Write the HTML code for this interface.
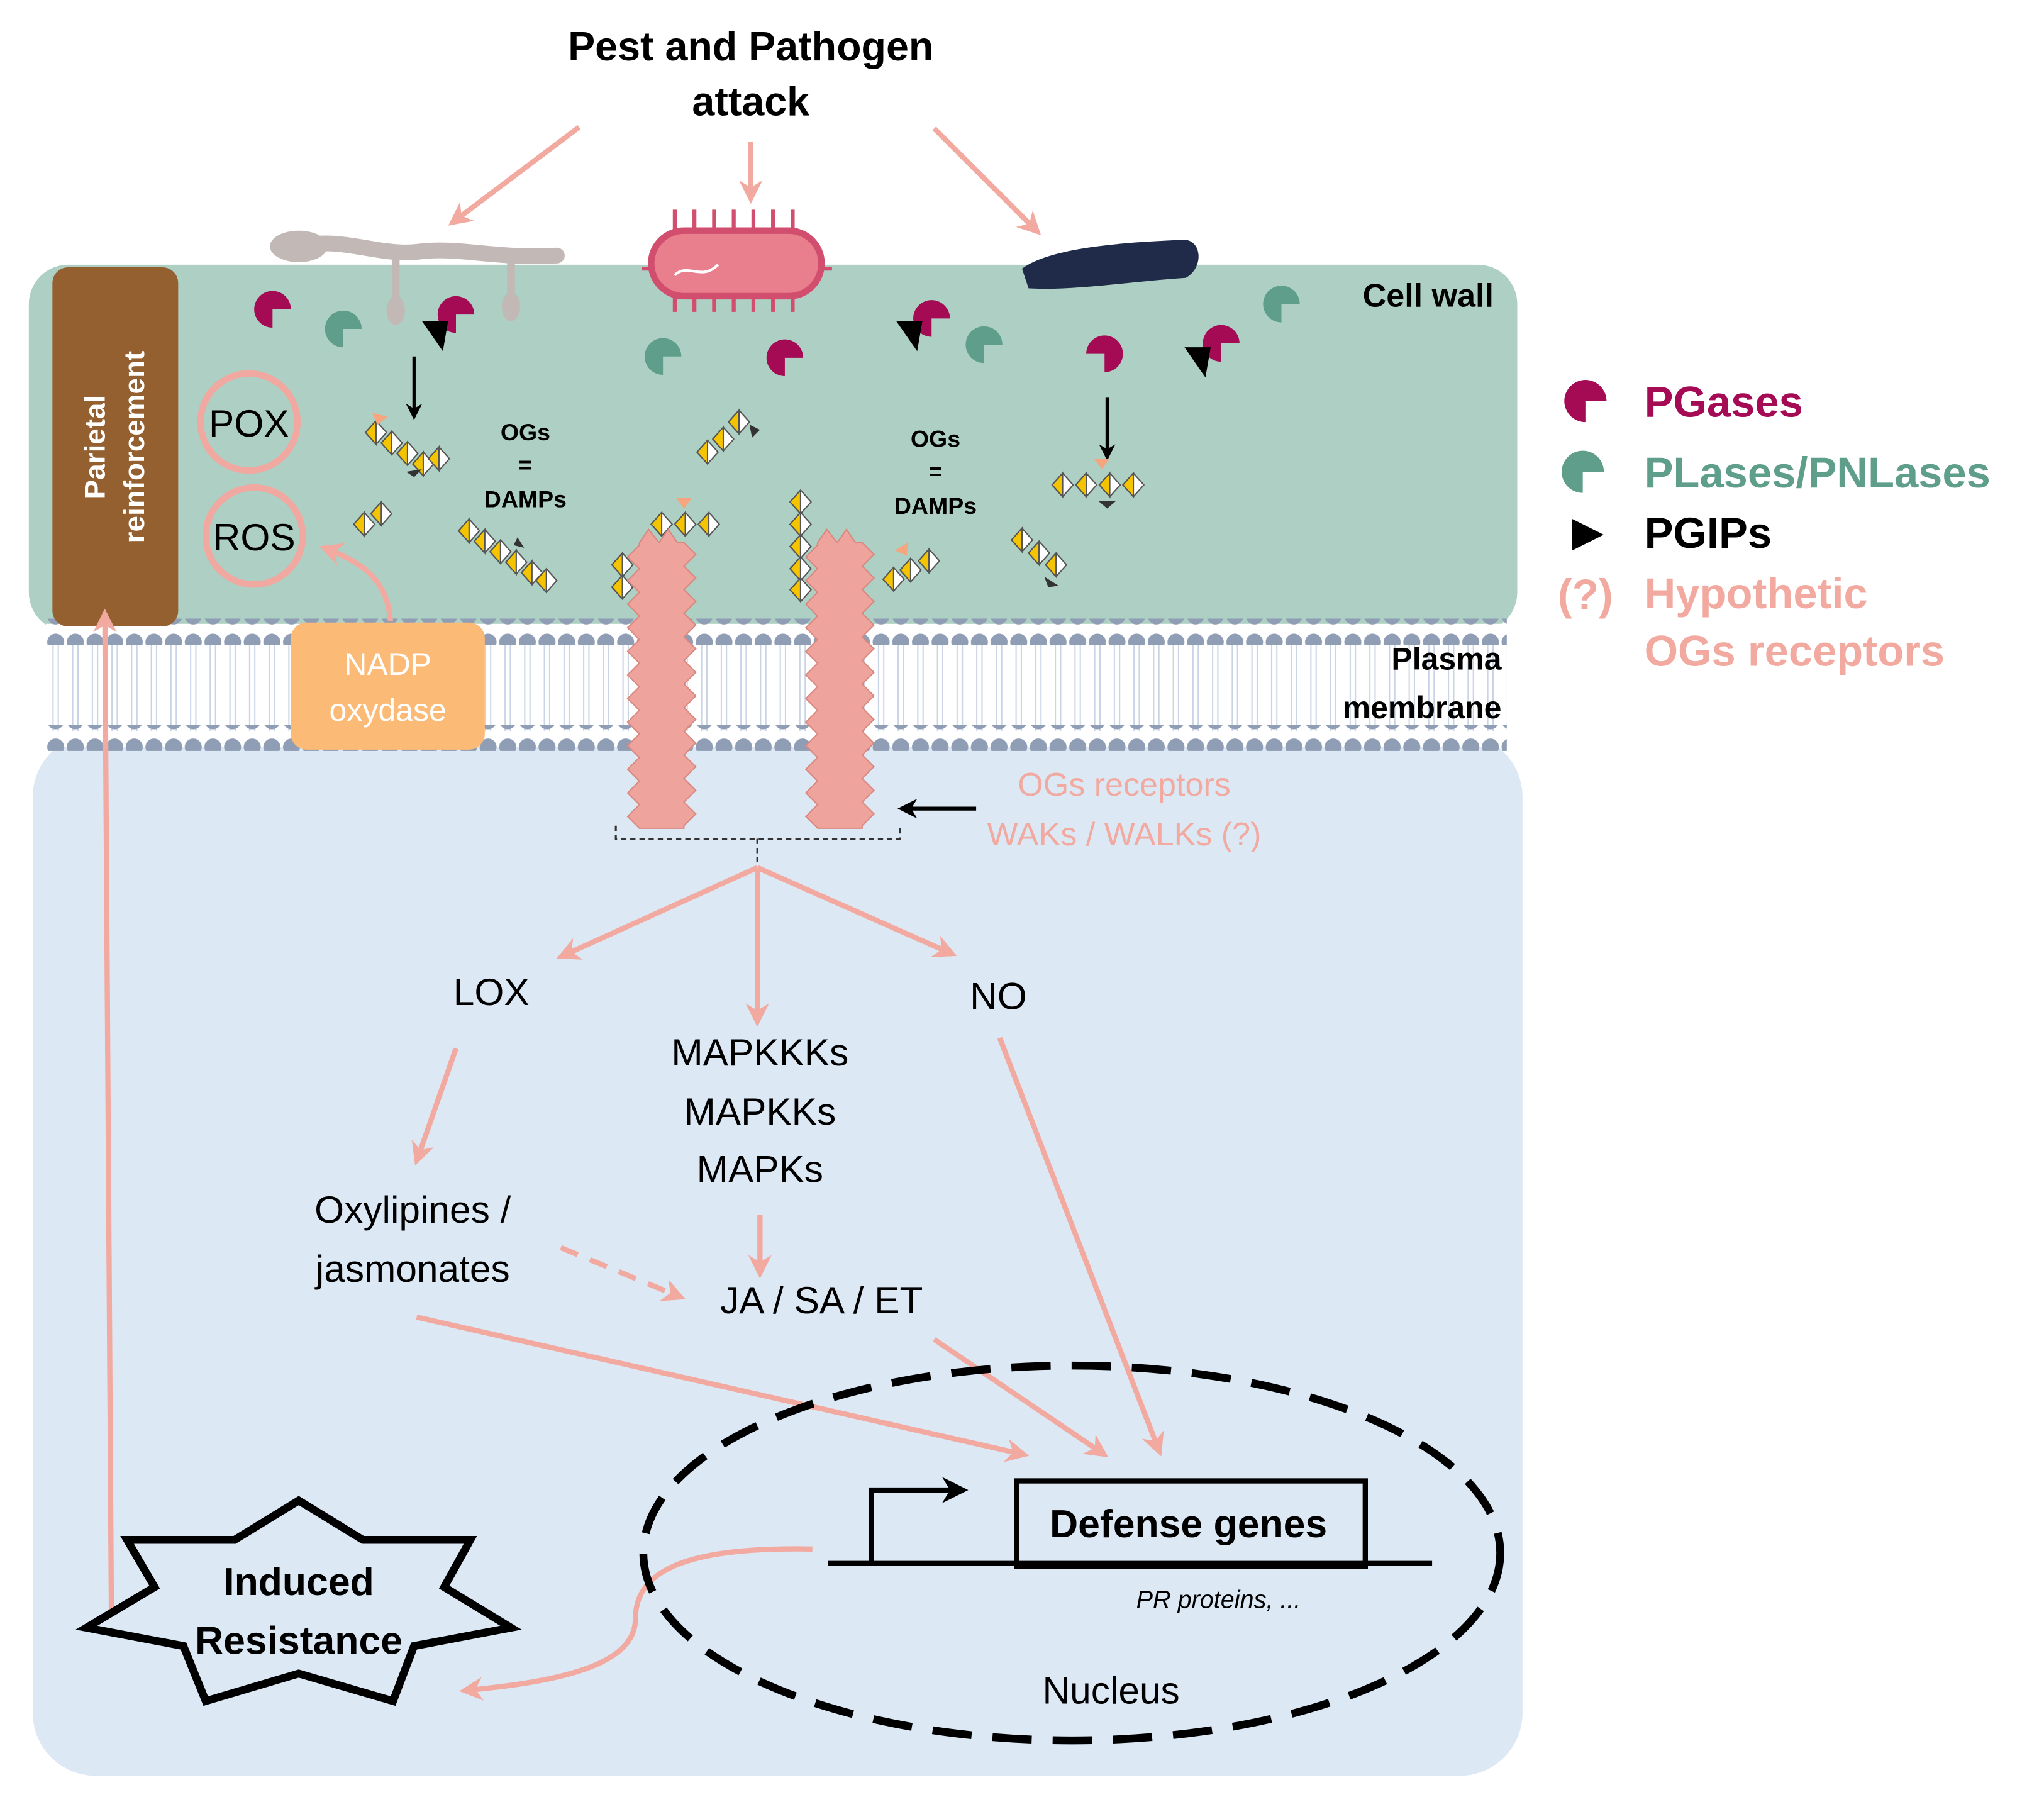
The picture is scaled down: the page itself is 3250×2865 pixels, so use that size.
<!DOCTYPE html>
<html><head><meta charset="utf-8"><style>html,body{margin:0;padding:0;background:#fff}svg{display:block}</style></head>
<body>
<svg width="3250" height="2865" viewBox="0 0 1560 1375" preserveAspectRatio="none" xmlns="http://www.w3.org/2000/svg" font-family="'Liberation Sans', sans-serif">
<defs>
<marker id="ap" viewBox="0 0 10 10" refX="8" refY="5" markerWidth="4.5" markerHeight="4.5" orient="auto"><path d="M0,0 L10,5 L0,10 L3,5 Z" fill="#f2a9a0"/></marker>
<marker id="ab" viewBox="0 0 10 10" refX="8" refY="5" markerWidth="5" markerHeight="5" orient="auto"><path d="M0,0 L10,5 L0,10 L3,5 Z" fill="#000"/></marker>
<pattern id="heads" x="35" y="0" width="15" height="20" patternUnits="userSpaceOnUse"><circle cx="7.5" cy="10" r="6.5" fill="#8f9db5"/></pattern>
<pattern id="tails" x="35" y="0" width="15" height="40" patternUnits="userSpaceOnUse"><path d="M5.5,0 V40 M9.5,0 V40" stroke="#c9d4e6" stroke-width="1"/></pattern>
<g id="pm"><path d="M0,0 L14,0 A14,14 0 1,1 0,-14 Z"/></g>
<g id="og"><polygon points="0,-9 8,0 0,9 -8,0" fill="#fff" stroke="#555" stroke-width="1"/><polygon points="0,-9 -8,0 0,9" fill="#f5c400" stroke="#555" stroke-width="1"/></g>
</defs>

<!-- cytoplasm -->
<rect x="25" y="560" width="1137" height="795" rx="48" fill="#dde8f5"/>
<!-- cell wall -->
<rect x="22" y="202" width="1136" height="280" rx="30" fill="#aecfc3"/>
<!-- membrane -->
<rect x="35" y="476" width="1115" height="94" fill="#fff"/>
<rect x="35" y="486" width="1115" height="72" fill="url(#tails)"/>
<rect x="35" y="472" width="1115" height="20" fill="url(#heads)"/>
<rect x="35" y="553" width="1115" height="20" fill="url(#heads)"/>

<!-- parietal -->
<rect x="40" y="204" width="96" height="274" rx="12" fill="#94602f"/>
<text transform="translate(80,341) rotate(-90)" text-anchor="middle" font-size="22" font-weight="bold" fill="#fff">Parietal</text>
<text transform="translate(110,341) rotate(-90)" text-anchor="middle" font-size="22" font-weight="bold" fill="#fff">reinforcement</text>

<circle cx="190" cy="322" r="37" fill="none" stroke="#f0a8a0" stroke-width="5"/>
<text x="190" y="333" text-anchor="middle" font-size="29">POX</text>
<circle cx="194" cy="409" r="37" fill="none" stroke="#f0a8a0" stroke-width="5"/>
<text x="194" y="420" text-anchor="middle" font-size="29">ROS</text>

<rect x="222" y="475" width="148" height="97" rx="12" fill="#fbbb77"/>
<text x="296" y="515" text-anchor="middle" font-size="24" fill="#fff">NADP</text>
<text x="296" y="550" text-anchor="middle" font-size="24" fill="#fff">oxydase</text>
<path d="M298,474 C296,445 280,430 247,418" fill="none" stroke="#f2a9a0" stroke-width="4" marker-end="url(#ap)"/>

<!-- organisms -->
<g>
<path d="M230,188 C260,180 290,196 320,192 C350,188 380,198 425,195" stroke="#c2b8b6" stroke-width="12" fill="none" stroke-linecap="round"/>
<ellipse cx="228" cy="188" rx="22" ry="12" fill="#c2b8b6"/>
<path d="M302,195 V235" stroke="#c2b8b6" stroke-width="6"/><ellipse cx="302" cy="237" rx="7" ry="11" fill="#c2b8b6"/>
<path d="M390,197 V232" stroke="#c2b8b6" stroke-width="6"/><ellipse cx="390" cy="234" rx="7" ry="11" fill="#c2b8b6"/>
</g>
<g stroke="#d24e6e" stroke-width="3">
<path d="M515,160 V178 M530,160 V178 M545,160 V178 M560,160 V178 M575,160 V178 M590,160 V178 M605,160 V178 M515,222 V238 M530,222 V238 M545,222 V238 M560,222 V238 M575,222 V238 M590,222 V238 M605,222 V238 M490,205 H500 M625,205 H635"/>
</g>
<rect x="497" y="176" width="130" height="50" rx="25" fill="#e97f8c" stroke="#d24e6e" stroke-width="5"/>
<path d="M515,210 C525,200 535,215 548,202" stroke="#fff" stroke-width="2" fill="none"/>
<path d="M780,205 C800,190 850,185 905,183 C918,185 918,205 905,212 C860,215 820,222 785,220 Z" fill="#1f2b48"/>

<!-- top title + arrows -->
<text x="573" y="46" text-anchor="middle" font-size="31" font-weight="bold">Pest and Pathogen</text>
<text x="573" y="88" text-anchor="middle" font-size="31" font-weight="bold">attack</text>
<g stroke="#f2a9a0" stroke-width="4" fill="none" marker-end="url(#ap)">
<path d="M442,97 L345,170"/>
<path d="M573,108 L573,152"/>
<path d="M713,98 L792,177"/>
</g>

<text x="1140" y="234" text-anchor="end" font-size="25" font-weight="bold">Cell wall</text>
<text x="1146" y="511" text-anchor="end" font-size="24" font-weight="bold">Plasma</text>
<text x="1146" y="548" text-anchor="end" font-size="24" font-weight="bold">membrane</text>

<!-- enzymes -->
<g fill="#a50a55">
<use href="#pm" transform="translate(208,236) rotate(90)"/>
<use href="#pm" transform="translate(348,240) rotate(90)"/>
<use href="#pm" transform="translate(711,243) rotate(90)"/>
<use href="#pm" transform="translate(599,273) rotate(90)"/>
<use href="#pm" transform="translate(843,270) rotate(180)"/>
<use href="#pm" transform="translate(932,262) rotate(90)"/>
</g>
<g fill="#5e9e8a">
<use href="#pm" transform="translate(262,251) rotate(90)"/>
<use href="#pm" transform="translate(506,272) rotate(90)"/>
<use href="#pm" transform="translate(751,263) rotate(90)"/>
<use href="#pm" transform="translate(978,232) rotate(90)"/>
</g>
<g fill="#000">
<polygon points="322,245 342,245 338,268"/>
<polygon points="684,245 704,245 700,268"/>
<polygon points="904,265 924,265 920,288"/>
</g>
<g stroke="#000" stroke-width="2.5" fill="none" marker-end="url(#ab)">
<path d="M316,272 V318"/><path d="M845,303 V349"/>
</g>

<!-- OG chains -->
<g>
<use href="#og" transform="translate(287,330)"/><use href="#og" transform="translate(299,338)"/><use href="#og" transform="translate(311,346)"/><use href="#og" transform="translate(323,354)"/><use href="#og" transform="translate(335,350)"/>
<use href="#og" transform="translate(278,400)"/><use href="#og" transform="translate(291,392)"/>
<use href="#og" transform="translate(358,405)"/><use href="#og" transform="translate(370,413)"/><use href="#og" transform="translate(382,421)"/><use href="#og" transform="translate(394,429)"/><use href="#og" transform="translate(406,437)"/><use href="#og" transform="translate(417,443)"/>
<use href="#og" transform="translate(540,345)"/><use href="#og" transform="translate(552,335)"/><use href="#og" transform="translate(564,322)"/>
<use href="#og" transform="translate(505,400)"/><use href="#og" transform="translate(523,400)"/><use href="#og" transform="translate(541,400)"/>
<use href="#og" transform="translate(475,431)"/><use href="#og" transform="translate(475,448)"/>
<use href="#og" transform="translate(611,383)"/><use href="#og" transform="translate(611,400)"/><use href="#og" transform="translate(611,417)"/><use href="#og" transform="translate(611,434)"/><use href="#og" transform="translate(611,450)"/>
<use href="#og" transform="translate(682,442)"/><use href="#og" transform="translate(695,435)"/><use href="#og" transform="translate(709,428)"/>
<use href="#og" transform="translate(811,370)"/><use href="#og" transform="translate(829,370)"/><use href="#og" transform="translate(847,370)"/><use href="#og" transform="translate(865,370)"/>
<use href="#og" transform="translate(780,412)"/><use href="#og" transform="translate(793,422)"/><use href="#og" transform="translate(806,431)"/>
</g>
<g fill="#333"><polygon points="310,360 322,358 316,364"/><polygon points="838,382 852,382 845,388"/><polygon points="797,440 808,447 800,448"/><polygon points="572,324 580,328 574,334"/><polygon points="395,410 400,418 392,416"/></g>
<g fill="#f5a67f"><polygon points="284,315 296,318 288,324"/><polygon points="516,380 528,380 522,388"/><polygon points="835,350 847,350 841,358"/><polygon points="683,420 693,414 692,424"/></g>

<text x="401" y="336" text-anchor="middle" font-size="18" font-weight="bold">OGs</text>
<text x="401" y="361" text-anchor="middle" font-size="18" font-weight="bold">=</text>
<text x="401" y="387" text-anchor="middle" font-size="18" font-weight="bold">DAMPs</text>
<text x="714" y="341" text-anchor="middle" font-size="18" font-weight="bold">OGs</text>
<text x="714" y="366" text-anchor="middle" font-size="18" font-weight="bold">=</text>
<text x="714" y="392" text-anchor="middle" font-size="18" font-weight="bold">DAMPs</text>

<!-- receptors -->
<g fill="#eea49d" stroke="#d98880" stroke-width="1">
<path d="M488,414 L495,404 L503,414 L510,404 L517,414 L522,414 l9,9 l-9,9 l9,9 l-9,9 l9,9 l-9,9 l9,9 l-9,9 l9,9 l-9,9 l9,9 l-9,9 l9,9 l-9,9 l9,9 l-9,9 l9,9 l-9,9 l9,9 l-9,9 l9,9 l-9,9 l9,9 l-9,9 L522,632 L488,632 l-9,-9 l9,-9 l-9,-9 l9,-9 l-9,-9 l9,-9 l-9,-9 l9,-9 l-9,-9 l9,-9 l-9,-9 l9,-9 l-9,-9 l9,-9 l-9,-9 l9,-9 l-9,-9 l9,-9 l-9,-9 l9,-9 l-9,-9 l9,-9 l-9,-9 l9,-9 Z"/>
<path d="M624,414 L631,404 L639,414 L646,404 L653,414 L658,414 l9,9 l-9,9 l9,9 l-9,9 l9,9 l-9,9 l9,9 l-9,9 l9,9 l-9,9 l9,9 l-9,9 l9,9 l-9,9 l9,9 l-9,9 l9,9 l-9,9 l9,9 l-9,9 l9,9 l-9,9 l9,9 l-9,9 L658,632 L624,632 l-9,-9 l9,-9 l-9,-9 l9,-9 l-9,-9 l9,-9 l-9,-9 l9,-9 l-9,-9 l9,-9 l-9,-9 l9,-9 l-9,-9 l9,-9 l-9,-9 l9,-9 l-9,-9 l9,-9 l-9,-9 l9,-9 l-9,-9 l9,-9 l-9,-9 l9,-9 Z"/>
</g>
<path d="M470,630 V640 H687 V630 M578,640 V660" fill="none" stroke="#333" stroke-width="1.5" stroke-dasharray="4,3"/>
<path d="M745,617 L688,617" stroke="#000" stroke-width="3" marker-end="url(#ab)"/>
<text x="858" y="607" text-anchor="middle" font-size="25" fill="#f2a9a0">OGs receptors</text>
<text x="858" y="645" text-anchor="middle" font-size="25" fill="#f2a9a0">WAKs / WALKs (?)</text>

<!-- signalling -->
<g stroke="#f2a9a0" stroke-width="4" fill="none" marker-end="url(#ap)">
<path d="M578,662 L428,730"/>
<path d="M578,662 L578,780"/>
<path d="M578,662 L727,728"/>
<path d="M348,800 L318,886"/>
<path d="M580,927 L580,972"/>
<path d="M318,1005 L782,1110"/>
<path d="M713,1022 L843,1110"/>
<path d="M763,792 L885,1108"/>
<path d="M620,1182 C520,1180 485,1200 485,1235 C485,1270 430,1283 354,1290"/>
<path d="M85,1228 L80,468"/>
</g>
<path d="M428,952 L520,990" stroke="#f2a9a0" stroke-width="4" stroke-dasharray="14,10" fill="none" marker-end="url(#ap)"/>

<g font-size="29" text-anchor="middle">
<text x="375" y="767">LOX</text>
<text x="762" y="770">NO</text>
<text x="580" y="813">MAPKKKs</text>
<text x="580" y="858">MAPKKs</text>
<text x="580" y="902">MAPKs</text>
<text x="315" y="933">Oxylipines /</text>
<text x="315" y="978">jasmonates</text>
<text x="627" y="1002">JA / SA / ET</text>
<text x="848" y="1300">Nucleus</text>
</g>

<!-- nucleus -->
<ellipse cx="818" cy="1185" rx="327" ry="143" fill="none" stroke="#000" stroke-width="6" stroke-dasharray="30,16"/>
<path d="M632,1193 H1093" stroke="#000" stroke-width="4"/>
<path d="M665,1193 V1137 H735" stroke="#000" stroke-width="4" fill="none" marker-end="url(#ab)"/>
<rect x="776" y="1130" width="266" height="65" fill="none" stroke="#000" stroke-width="4"/>
<text x="907" y="1173" text-anchor="middle" font-size="30" font-weight="bold">Defense genes</text>
<text x="930" y="1227" text-anchor="middle" font-size="19" font-style="italic">PR proteins, ...</text>

<!-- star -->
<polygon points="228,1145 277,1175 359,1175 339,1211 390,1242 316,1256 300,1298 228,1277 157,1298 140,1256 66,1242 118,1211 97,1175 179,1175" fill="#dde8f5" stroke="#000" stroke-width="6" stroke-linejoin="miter"/>
<text x="228" y="1217" text-anchor="middle" font-size="30" font-weight="bold">Induced</text>
<text x="228" y="1262" text-anchor="middle" font-size="30" font-weight="bold">Resistance</text>

<!-- legend -->
<use href="#pm" fill="#a50a55" transform="translate(1210,306) rotate(90) scale(1.15)"/>
<text x="1255" y="318" font-size="33" font-weight="bold" fill="#a50a55">PGases</text>
<use href="#pm" fill="#5e9e8a" transform="translate(1208,360) rotate(90) scale(1.15)"/>
<text x="1255" y="372" font-size="33" font-weight="bold" fill="#5e9e8a">PLases/PNLases</text>
<polygon points="1200,396 1224,408 1200,420" fill="#000"/>
<text x="1255" y="418" font-size="33" font-weight="bold">PGIPs</text>
<text x="1210" y="465" text-anchor="middle" font-size="33" font-weight="bold" fill="#f2aaa0">(?)</text>
<text x="1255" y="464" font-size="33" font-weight="bold" fill="#f2aaa0">Hypothetic</text>
<text x="1255" y="508" font-size="33" font-weight="bold" fill="#f2aaa0">OGs receptors</text>
</svg>
</body></html>
